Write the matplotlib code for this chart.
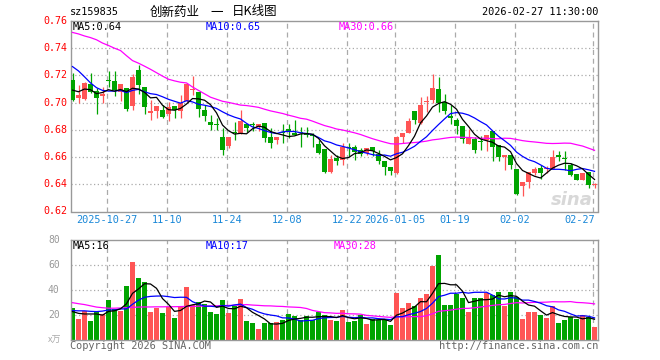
import matplotlib
matplotlib.use('Agg')
import matplotlib.pyplot as plt
import matplotlib.transforms as mtransforms
import numpy as np
import pandas as pd

# ---------------- data ----------------
holidays = ['2026-01-01', '2026-01-02', '2026-02-16', '2026-02-17', '2026-02-18',
            '2026-02-19', '2026-02-20', '2026-02-23']
dates = [d.strftime('%Y-%m-%d') for d in pd.bdate_range('2025-10-17', '2026-02-27')
         if d.strftime('%Y-%m-%d') not in holidays]

opens = [0.7165, 0.7035, 0.7030, 0.7135, 0.7085, 0.7050, 0.7160, 0.7160, 0.7080, 0.7105,
         0.6975, 0.7243, 0.7113, 0.6923, 0.6935, 0.6943, 0.6913, 0.6975, 0.6938, 0.7013,
         0.7095, 0.7075, 0.6944, 0.6858, 0.6836, 0.6749, 0.6680, 0.6779, 0.6773, 0.6846,
         0.6836, 0.6822, 0.6854, 0.6749, 0.6729, 0.6780, 0.6805, 0.6778, 0.6779, 0.6780,
         0.6757, 0.6693, 0.6656, 0.6488, 0.6590, 0.6580, 0.6668, 0.6673, 0.6650, 0.6629,
         0.6671, 0.6624, 0.6568, 0.6524, 0.6483, 0.6751, 0.6780, 0.6941, 0.6849, 0.7005,
         0.7020, 0.7098, 0.7007, 0.6902, 0.6876, 0.6830, 0.6697, 0.6730, 0.6715, 0.6727,
         0.6788, 0.6686, 0.6600, 0.6617, 0.6512, 0.6385, 0.6414, 0.6480, 0.6523, 0.6510,
         0.6515, 0.6617, 0.6586, 0.6544, 0.6478, 0.6434, 0.6490, 0.6394]
closes = [0.7020, 0.7055, 0.7145, 0.7075, 0.7035, 0.7063, 0.7158, 0.7090, 0.7138, 0.6955,
          0.7188, 0.7130, 0.6968, 0.6935, 0.6973, 0.6898, 0.6968, 0.6948, 0.7000, 0.7135,
          0.7100, 0.6955, 0.6900, 0.6836, 0.6834, 0.6650, 0.6749, 0.6776, 0.6863, 0.6817,
          0.6834, 0.6846, 0.6737, 0.6705, 0.6749, 0.6778, 0.6785, 0.6761, 0.6777, 0.6761,
          0.6755, 0.6632, 0.6490, 0.6585, 0.6568, 0.6673, 0.6666, 0.6634, 0.6624, 0.6666,
          0.6641, 0.6568, 0.6527, 0.6495, 0.6751, 0.6780, 0.6868, 0.6873, 0.6983, 0.7007,
          0.7105, 0.7000, 0.6940, 0.6888, 0.6826, 0.6732, 0.6739, 0.6654, 0.6713, 0.6764,
          0.6675, 0.6598, 0.6617, 0.6544, 0.6330, 0.6418, 0.6491, 0.6512, 0.6480, 0.6512,
          0.6598, 0.6600, 0.6584, 0.6466, 0.6434, 0.6483, 0.6397, 0.6397]
highs = [0.7215, 0.7130, 0.7155, 0.7218, 0.7110, 0.7113, 0.7230, 0.7230, 0.7138, 0.7105,
         0.7213, 0.7273, 0.7113, 0.7018, 0.6973, 0.6985, 0.7005, 0.6975, 0.7055, 0.7135,
         0.7193, 0.7075, 0.6980, 0.6907, 0.6890, 0.6817, 0.6749, 0.6858, 0.6944, 0.6846,
         0.6858, 0.6846, 0.6854, 0.6810, 0.6749, 0.6840, 0.6846, 0.6871, 0.6822, 0.6822,
         0.6775, 0.6724, 0.6656, 0.6617, 0.6617, 0.6707, 0.6707, 0.6690, 0.6666, 0.6666,
         0.6673, 0.6653, 0.6568, 0.6527, 0.6756, 0.6780, 0.6890, 0.6941, 0.7044, 0.7047,
         0.7210, 0.7190, 0.7060, 0.6983, 0.6885, 0.6830, 0.6804, 0.6750, 0.6756, 0.6764,
         0.6788, 0.6686, 0.6617, 0.6617, 0.6512, 0.6418, 0.6491, 0.6528, 0.6540, 0.6531,
         0.6652, 0.6648, 0.6641, 0.6554, 0.6478, 0.6483, 0.6490, 0.6409]
lows = [0.7010, 0.6998, 0.7023, 0.7068, 0.6913, 0.7000, 0.7118, 0.7050, 0.7013, 0.6938,
        0.6948, 0.7060, 0.6918, 0.6875, 0.6888, 0.6885, 0.6863, 0.6885, 0.6888, 0.7005,
        0.7055, 0.6893, 0.6866, 0.6797, 0.6797, 0.6614, 0.6663, 0.6724, 0.6773, 0.6785,
        0.6790, 0.6793, 0.6712, 0.6670, 0.6695, 0.6700, 0.6737, 0.6761, 0.6676, 0.6749,
        0.6673, 0.6622, 0.6484, 0.6483, 0.6544, 0.6544, 0.6605, 0.6580, 0.6605, 0.6617,
        0.6605, 0.6551, 0.6470, 0.6470, 0.6478, 0.6702, 0.6780, 0.6840, 0.6841, 0.6928,
        0.7000, 0.6930, 0.6915, 0.6845, 0.6773, 0.6703, 0.6697, 0.6627, 0.6653, 0.6641,
        0.6568, 0.6568, 0.6505, 0.6510, 0.6320, 0.6314, 0.6373, 0.6468, 0.6436, 0.6483,
        0.6512, 0.6574, 0.6505, 0.6458, 0.6434, 0.6434, 0.6373, 0.6373]
volumes = [25.8, 17.0, 23.1, 15.7, 23.4, 21.0, 32.2, 25.3, 23.7, 43.3,
           62.7, 49.7, 46.3, 22.6, 26.0, 21.8, 26.8, 18.1, 26.3, 42.5,
           27.9, 30.8, 29.0, 22.6, 21.3, 32.2, 21.8, 27.6, 33.0, 15.4,
           13.8, 9.0, 13.8, 13.6, 14.6, 16.5, 20.7, 19.4, 16.2, 19.4,
           16.2, 22.9, 19.9, 16.2, 15.4, 24.2, 14.6, 15.4, 19.9, 13.0,
           17.3, 16.5, 16.5, 12.2, 37.7, 25.8, 29.8, 27.1, 33.8, 37.2,
           59.5, 68.3, 28.2, 28.2, 37.2, 33.8, 22.9, 33.8, 33.8, 37.7,
           36.2, 38.5, 27.4, 38.5, 34.8, 17.0, 22.9, 22.9, 20.2, 17.5,
           27.1, 14.1, 16.2, 18.3, 17.0, 19.9, 18.3, 10.6]

# moving-average values before enough history is visible
ma5_head = [0.7092, 0.7080, 0.7100, 0.7095]
ma10_head = [0.7265, 0.7233, 0.7190, 0.7145, 0.7110, 0.7090, 0.7085, 0.7085, 0.7090]
ma30_head = [0.7516, 0.7505, 0.7490, 0.7478, 0.7462, 0.7438, 0.7420, 0.7400, 0.7383, 0.7345,
             0.7309, 0.7290, 0.7268, 0.7245, 0.7220, 0.7195, 0.7172, 0.7160, 0.7150, 0.7145,
             0.7115, 0.7090, 0.7065, 0.7040, 0.7025, 0.7010, 0.7002, 0.6992, 0.6982]
vma5_head = [22.9, 21.5, 21.0, 21.0]
vma10_head = [23.7, 23.5, 23.5, 23.1, 22.9, 23.3, 24.2, 24.2, 25.0]
vma30_head = [30.0, 29.2, 28.5, 27.5, 26.5, 26.0, 25.6, 25.6, 25.8, 26.0,
              26.3, 26.5, 26.6, 26.6, 26.7, 26.7, 26.8, 26.8, 26.9, 27.0,
              27.1, 27.2, 27.3, 27.4, 27.5, 27.6, 27.8, 28.0, 28.2]

price_ticks = [0.76, 0.74, 0.72, 0.70, 0.68, 0.66, 0.64, 0.62]
vol_ticks = [80, 60, 40, 20]
tick_dates = ['2025-10-27', '2025-11-10', '2025-11-24', '2025-12-08', '2025-12-22',
              '2026-01-05', '2026-01-19', '2026-02-02', '2026-02-27']
tick_labels = ['2025-10-27', '11-10', '11-24', '12-08', '12-22', '2026-01-05',
               '01-19', '02-02', '02-27']

title_code = 'sz159835'
title_parts = ['创新药业', '一', '日K线图']
title_time = '2026-02-27 11:30:00'
price_ma_labels = ['MA5:0.64', 'MA10:0.65', 'MA30:0.66']
vol_ma_labels = ['MA5:16', 'MA10:17', 'MA30:28']


def moving_average(vals, n, head):
    out = list(head)
    for i in range(len(head), len(vals)):
        out.append(float(np.mean(vals[i - n + 1:i + 1])))
    return out


# ---------------- figure ----------------
W, H = 660, 360
fig = plt.figure(figsize=(W / 100, H / 100), dpi=100)
fig.patch.set_facecolor('white')

MONO = 'DejaVu Sans Mono'
CJK = ['Noto Sans CJK SC', 'DejaVu Sans']
RED = '#ff5555'
GREEN = '#00a400'
GRID = '#aaaaaa'
FRAME = '#999999'


def fx(x):
    return x / W


def fy(y):
    return 1 - y / H


L, R = 70.7, 598.0
P_TOP, P_BOT = 21.0, 211.5
V_TOP, V_BOT = 240.0, 340.3
ax1 = fig.add_axes([fx(L), fy(P_BOT), (R - L) / W, (P_BOT - P_TOP) / H])
ax2 = fig.add_axes([fx(L), fy(V_BOT), (R - L) / W, (V_BOT - V_TOP) / H])

n = len(closes)
x = np.arange(n)
o = np.array(opens); c = np.array(closes); h = np.array(highs); lo = np.array(lows)
up = c >= o
colors = [RED if u else GREEN for u in up]

xmin, xmax = -0.3, 87.58
tick_idx = [dates.index(d) for d in tick_dates]

for ax in (ax1, ax2):
    ax.set_xlim(xmin, xmax)
    for s in ax.spines.values():
        s.set_color(FRAME)
        s.set_linewidth(1.0)
    ax.tick_params(length=0)
    ax.set_xticks([])
    for ti in tick_idx:
        ax.axvline(ti - 0.3, color=GRID, lw=0.9, ls=(0, (4, 3)), zorder=0)

# price panel
ax1.set_ylim(0.62, 0.76)
for v in price_ticks[1:-1]:
    ax1.axhline(v, color=GRID, lw=0.9, ls=(0, (1, 2)), zorder=0)
ax1.vlines(x, lo, h, colors=colors, lw=0.9, zorder=2)
body_bot = np.minimum(o, c)
body_h = np.maximum(np.abs(c - o), 0.0008)
ax1.bar(x, body_h, bottom=body_bot, width=0.83, color=colors, linewidth=0, zorder=3)

ma5 = moving_average(closes, 5, ma5_head)
ma10 = moving_average(closes, 10, ma10_head)
ma30 = moving_average(closes, 30, ma30_head)
ax1.plot(x, ma30, color='#ff00ff', lw=0.9, zorder=4)
ax1.plot(x, ma10, color='#0000ff', lw=0.9, zorder=4)
ax1.plot(x, ma5, color='black', lw=0.9, zorder=4)
ax1.set_yticks([])

tr1 = mtransforms.blended_transform_factory(fig.transFigure, ax1.transData)
for v in price_ticks:
    ax1.text(fx(67), v, f'{v:.2f}', transform=tr1, ha='right', va='center',
             color='#ff0000', fontsize=7.2, family=MONO)

# volume panel
ax2.set_ylim(0, 80)
for v in vol_ticks[1:]:
    ax2.axhline(v, color=GRID, lw=0.9, ls=(0, (1, 2)), zorder=0)
ax2.bar(x, volumes, width=0.83, color=colors, linewidth=0, zorder=2)
vma5 = moving_average(volumes, 5, vma5_head)
vma10 = moving_average(volumes, 10, vma10_head)
vma30 = moving_average(volumes, 30, vma30_head)
ax2.plot(x, vma30, color='#ff00ff', lw=0.9, zorder=4)
ax2.plot(x, vma10, color='#0000ff', lw=0.9, zorder=4)
ax2.plot(x, vma5, color='black', lw=0.9, zorder=4)
ax2.set_yticks([])

tr2 = mtransforms.blended_transform_factory(fig.transFigure, ax2.transData)
for v in vol_ticks:
    ax2.text(fx(48), v, f'{v}', transform=tr2, ha='left', va='center',
             color='#999999', fontsize=7.0, family=MONO)
ax2.text(fx(48), 0, 'x万', transform=tr2, ha='left', va='center',
         color='#aaaaaa', fontsize=6.5, family=CJK)

# x tick labels (the last one is kept inside the frame)
trx = mtransforms.blended_transform_factory(ax1.transData, fig.transFigure)
for k, (ti, lab) in enumerate(zip(tick_idx, tick_labels)):
    if k == len(tick_idx) - 1:
        fig.text(fx(595), fy(219.5), lab, ha='right', va='center',
                 color='#1a88d8', fontsize=7.4, family=MONO)
    else:
        ax1.text(ti - 0.3, fy(219.5), lab, transform=trx, ha='center', va='center',
                 color='#1a88d8', fontsize=7.4, family=MONO, clip_on=False)

# header
fig.text(fx(70), fy(12), title_code, ha='left', va='center', fontsize=7.4,
         family=MONO, color='black')
for part, xx in zip(title_parts, [174.5, 217, 255]):
    fig.text(fx(xx), fy(12), part, ha='center', va='center', fontsize=9.0,
             family=CJK, color='black')
fig.text(fx(598), fy(12), title_time, ha='right', va='center', fontsize=7.4,
         family=MONO, color='black')

# MA legends
ma_cols = ['black', '#0000ff', '#ff00ff']
for lab, xx, col in zip(price_ma_labels, [73, 206, 339], ma_cols):
    fig.text(fx(xx), fy(27), lab, ha='left', va='center', fontsize=7.4,
             family=MONO, color=col)
for lab, xx, col in zip(vol_ma_labels, [73, 206, 334], ma_cols):
    fig.text(fx(xx), fy(246), lab, ha='left', va='center', fontsize=7.4,
             family=MONO, color=col)

# watermark and footer
fig.text(fx(572), fy(200), 'sina', ha='center', va='center', fontsize=13,
         style='italic', weight='bold', color='#d8d8d8', family='DejaVu Sans')
fig.text(fx(70), fy(346), 'Copyright 2026 SINA.COM', ha='left', va='center',
         fontsize=7.4, family=MONO, color='#666666')
fig.text(fx(598), fy(346), 'http://finance.sina.com.cn', ha='right', va='center',
         fontsize=7.4, family=MONO, color='#666666')

fig.savefig('out.png', dpi=100, facecolor='white')
